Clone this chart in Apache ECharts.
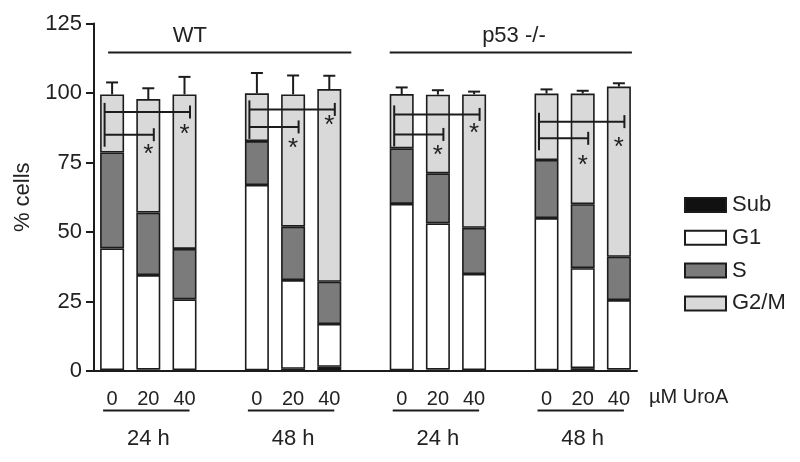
<!DOCTYPE html>
<html><head><meta charset="utf-8">
<script src="https://cdn.jsdelivr.net/npm/echarts@6/dist/echarts.min.js"></script>
<style>html,body{margin:0;padding:0;background:#fff}#c{width:800px;height:462px}</style>
</head><body><div id="c"></div>
<script>
// ---- data ----
const doses = ['0', '20', '40'];
const times = ['24 h', '48 h', '24 h', '48 h'];
const genotypes = ['WT', 'p53 -/-'];
const phaseNames = ['Sub', 'G1', 'S', 'G2/M'];
const sub = [0.3, 0.5, 0.3, 0.2, 0.8, 1.5, 0.2, 0.5, 0.3, 0.2, 1.0, 0.5];
const g1  = [43.8, 34.0, 25.5, 66.7, 31.9, 15.4, 59.9, 52.6, 34.6, 54.8, 36.0, 25.0];
const sPh = [34.5, 22.5, 18.1, 15.8, 19.2, 15.2, 20.0, 18.0, 16.6, 20.9, 23.0, 15.6];
const g2m = [20.9, 40.8, 55.6, 17.2, 47.6, 69.3, 19.5, 28.3, 48.0, 23.9, 39.8, 61.2];
const errSD = [4.3, 3.9, 6.3, 7.3, 6.8, 4.8, 2.4, 1.6, 1.0, 1.5, 1.0, 1.2];
const bracketUpper = [93.2, 94.1, 92.3, 89.7];
const bracketLower = [85.0, 87.8, 85.1, 83.7];
const starMid  = [79.0, 81.0, 78.5, 74.9];
const starHigh = [86.0, 89.3, 86.4, 81.5];
const yTicks = [0, 25, 50, 75, 100, 125];
const starSymbol = '*';
const doseUnit = 'µM UroA';

// ---- build categories (3 doses per group, blank gap between groups) ----
const categories = [];
const catOfBar = [];
for (let g = 0; g < times.length; g++) {
  for (let d = 0; d < doses.length; d++) { catOfBar.push(categories.length); categories.push(doses[d]); }
  if (g < times.length - 1) categories.push('');
}
function toCat(arr) {
  const out = categories.map(() => '-');
  arr.forEach((v, i) => { out[catOfBar[i]] = v; });
  return out;
}

const FONT = "'Liberation Sans', Arial, Helvetica, sans-serif";
const INK = '#1c1c1c';
const TXT = '#222';
const colors = ['#111111', '#ffffff', '#7b7b7b', '#d9d9d9'];
const phaseData = [sub, g1, sPh, g2m];

const barSeries = phaseNames.map((n, k) => ({
  name: n, type: 'bar', stack: 'total', barWidth: 24,
  data: toCat(phaseData[k]),
  itemStyle: { color: colors[k], borderColor: INK, borderWidth: 1.6 },
  emphasis: { disabled: true }, z: 2, animation: false
}));

const errData = catOfBar.map((c, i) => {
  const tot = sub[i] + g1[i] + sPh[i] + g2m[i];
  return [c, tot, tot + errSD[i]];
});

function ln(x1, y1, x2, y2) {
  return { type: 'line', shape: { x1, y1, x2, y2 }, style: { stroke: INK, lineWidth: 2 } };
}
function txt(x, y, s, size) {
  return { type: 'text', style: { x, y, text: s, fill: TXT, font: size + 'px ' + FONT, align: 'center', verticalAlign: 'middle' } };
}

const errSeries = {
  type: 'custom', data: errData, encode: { x: 0, y: [1, 2] }, z: 3, silent: true, animation: false,
  renderItem: (params, api) => {
    const p0 = api.coord([api.value(0), api.value(1)]);
    const p1 = api.coord([api.value(0), api.value(2)]);
    return { type: 'group', children: [ln(p0[0], p0[1], p1[0], p1[1]), ln(p1[0] - 6, p1[1], p1[0] + 6, p1[1])] };
  }
};

const bracketData = times.map((t, g) => [catOfBar[3 * g], catOfBar[3 * g + 1], catOfBar[3 * g + 2],
  bracketUpper[g], bracketLower[g], starMid[g], starHigh[g]]);
const bracketSeries = {
  type: 'custom', data: bracketData, encode: { x: [0, 1, 2], y: [3, 4] }, z: 4, silent: true, clip: false, animation: false,
  renderItem: (params, api) => {
    const c0 = api.value(0), c1 = api.value(1), c2 = api.value(2);
    const up = api.value(3), lo = api.value(4), sm = api.value(5), sh = api.value(6);
    const xl = api.coord([c0, up])[0] - 7.5;
    const xm = api.coord([c1, up])[0];
    const xr = api.coord([c2, up])[0];
    const yU = api.coord([c0, up])[1], yL = api.coord([c0, lo])[1];
    const ySm = api.coord([c0, sm])[1], ySh = api.coord([c0, sh])[1];
    return { type: 'group', children: [
      ln(xl, yU - 9, xl, yL + 12),
      ln(xl, yU, xr + 5.5, yU), ln(xr + 5.5, yU - 6.5, xr + 5.5, yU + 6.5),
      ln(xl, yL, xm + 5.5, yL), ln(xm + 5.5, yL - 6.5, xm + 5.5, yL + 6.5),
      txt(xm, ySm + 3, starSymbol, 26), txt(xr, ySh + 3, starSymbol, 26)
    ] };
  }
};

// genotype headers
const headerData = genotypes.map((gname, k) => [catOfBar[6 * k], catOfBar[6 * k + 5], k]);
const headerLevel = 114.6, headerTextLevel = 120.4;
const headerLabelCat = [2.15, 11.1];
const headerSeries = {
  type: 'custom', data: headerData, encode: { x: [0, 1] }, z: 4, silent: true, clip: false, animation: false,
  renderItem: (params, api) => {
    const c0 = api.value(0), c1 = api.value(1), k = api.value(2);
    const y = api.coord([c0, headerLevel])[1];
    const yt = api.coord([c0, headerTextLevel])[1];
    const x0 = api.coord([c0, 0])[0] - (k === 0 ? 4 : 12);
    const x1 = api.coord([c1, 0])[0] + (k === 0 ? 22 : 13);
    const fc = headerLabelCat[k], fl = Math.floor(fc);
    const xt = api.coord([fl, 0])[0] + (fc - fl) * api.size([1, 0])[0];
    return { type: 'group', children: [ln(x0, y, x1, y), txt(xt, yt, genotypes[k], 22)] };
  }
};

// time labels below axis
const timeData = times.map((t, g) => [catOfBar[3 * g], catOfBar[3 * g + 2], g]);
const timeSeries = {
  type: 'custom', data: timeData, encode: { x: [0, 1] }, z: 4, silent: true, clip: false, animation: false,
  renderItem: (params, api) => {
    const c0 = api.value(0), c2 = api.value(1), g = api.value(2);
    const y0 = api.coord([c0, 0])[1];
    const xa = api.coord([c0, 0])[0], xb = api.coord([c2, 0])[0];
    return { type: 'group', children: [ln(xa - 9, y0 + 39.5, xb + 5, y0 + 39.5), txt((xa + xb) / 2, y0 + 68, times[g], 22)] };
  }
};

const chart = echarts.init(document.getElementById('c'), null, { renderer: 'canvas' });
chart.setOption({
  backgroundColor: '#fff',
  animation: false,
  textStyle: { fontFamily: FONT },
  grid: { left: 94, right: 163, top: 23.5, bottom: 91, containLabel: false },
  legend: {
    data: phaseNames, orient: 'vertical', left: 684, top: 194, padding: 0,
    itemWidth: 41, itemHeight: 14, itemGap: 10.8, icon: 'rect',
    selectedMode: false,
    textStyle: { fontSize: 22, color: TXT, fontFamily: FONT, padding: [0, 0, 0, 1] }
  },
  xAxis: {
    type: 'category', data: categories,
    axisLine: { lineStyle: { color: INK, width: 2 } },
    axisTick: { alignWithLabel: true, length: 7, lineStyle: { color: INK, width: 2 } },
    axisLabel: { interval: 0, fontSize: 20, color: TXT, margin: 18, fontFamily: FONT },
    name: doseUnit, nameLocation: 'end', nameGap: 12,
    nameTextStyle: { fontSize: 20, color: TXT, fontFamily: FONT, verticalAlign: 'top', padding: [16, 0, 0, 0] }
  },
  yAxis: {
    type: 'value', min: yTicks[0], max: yTicks[yTicks.length - 1], interval: yTicks[1] - yTicks[0],
    axisLine: { show: true, lineStyle: { color: INK, width: 2 } },
    axisTick: { show: true, length: 8, lineStyle: { color: INK, width: 2 } },
    axisLabel: { fontSize: 22, color: TXT, margin: 12, fontFamily: FONT },
    splitLine: { show: false },
    name: '% cells', nameLocation: 'middle', nameGap: 51, nameRotate: 90,
    nameTextStyle: { fontSize: 22, color: TXT, fontFamily: FONT }
  },
  series: [...barSeries, errSeries, bracketSeries, headerSeries, timeSeries]
});
</script>
</body></html>
